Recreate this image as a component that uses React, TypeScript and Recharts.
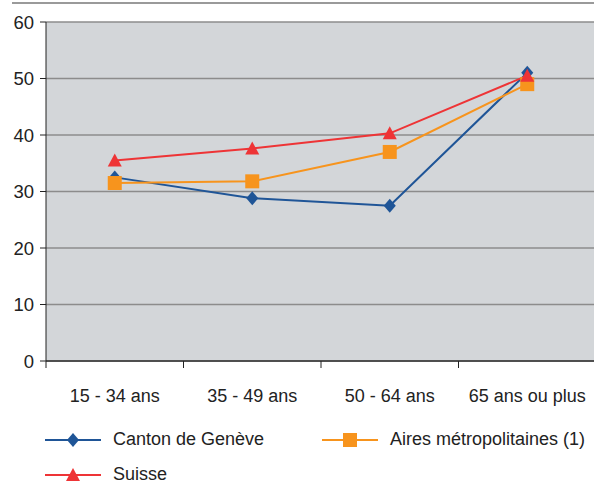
import { CartesianGrid, Line, LineChart, XAxis, YAxis } from 'recharts';

const categories = ['15 - 34 ans', '35 - 49 ans', '50 - 64 ans', '65 ans ou plus'];
const geneve = [32.5, 28.8, 27.5, 51.0];
const aires = [31.5, 31.8, 37.0, 49.0];
const suisse = [35.5, 37.6, 40.3, 50.5];
const yTicks = [0, 10, 20, 30, 40, 50, 60];

const BLUE = '#1f5597';
const ORANGE = '#f7941d';
const RED = '#ee3436';
const FONT = '"Liberation Sans", Arial, sans-serif';

const data = categories.map((name, i) => ({
  pos: i + 0.5,
  name,
  geneve: geneve[i],
  aires: aires[i],
  suisse: suisse[i],
}));

const xTicks = [0, 0.5, 1, 1.5, 2, 2.5, 3, 3.5, 4];

const XTick = (props: any) => {
  const { x, y, payload } = props;
  const v = payload.value;
  if (Number.isInteger(v)) {
    return <line x1={x} x2={x} y1={y - 8} y2={y - 1} stroke="#222" strokeWidth={1} />;
  }
  return (
    <text x={x} y={y + 33} textAnchor="middle" fill="#222" fontSize={18} fontFamily={FONT}>
      {categories[Math.floor(v)]}
    </text>
  );
};

const Diamond = (props: any) => {
  const { cx, cy } = props;
  return <path key={`d${cx}`} d={`M${cx},${cy - 7} L${cx + 6},${cy} L${cx},${cy + 7} L${cx - 6},${cy} Z`} fill={BLUE} />;
};
const Square = (props: any) => {
  const { cx, cy } = props;
  return <rect key={`s${cx}`} x={cx - 7} y={cy - 7} width={14} height={14} fill={ORANGE} />;
};
const Triangle = (props: any) => {
  const { cx, cy } = props;
  return <path key={`t${cx}`} d={`M${cx},${cy - 7} L${cx + 7},${cy + 6} L${cx - 7},${cy + 6} Z`} fill={RED} />;
};

const LegendItem = ({ color, label, marker }: { color: string; label: string; marker: string }) => (
  <div style={{ display: 'flex', alignItems: 'center', height: 35, whiteSpace: 'nowrap' }}>
    <svg width={68} height={20}>
      <line x1={0} x2={56} y1={10} y2={10} stroke={color} strokeWidth={2} />
      {marker === 'd' && <path d="M28,3 L34,10 L28,17 L22,10 Z" fill={color} />}
      {marker === 's' && <rect x={21} y={3} width={14} height={14} fill={color} />}
      {marker === 't' && <path d="M28,3 L35,16 L21,16 Z" fill={color} />}
    </svg>
    <span>{label}</span>
  </div>
);

export default function App() {
  return (
    <div style={{ position: 'absolute', left: 0, top: 0, width: 594, height: 484, background: '#fff', overflow: 'hidden' }}>
      <div style={{ position: 'absolute', left: 12, top: 2, width: 582, height: 2, background: '#9a9a9a' }} />
      <LineChart width={594} height={484} data={data} margin={{ top: 22, right: -2, left: 0, bottom: 83 }}>
        <CartesianGrid vertical={false} stroke="#8c8c8c" fill="#d3d6d9" strokeWidth={1.5} />
        <XAxis
          dataKey="pos"
          type="number"
          domain={[0, 4]}
          ticks={xTicks}
          interval={0}
          tick={<XTick />}
          tickLine={false}
          axisLine={{ stroke: '#333', strokeWidth: 1.5 }}
          height={40}
        />
        <YAxis
          domain={[0, 60]}
          ticks={yTicks}
          width={46}
          tickSize={6}
          tickMargin={6}
          tick={{ fill: '#222', fontSize: 18.5, fontFamily: FONT }}
          tickLine={{ stroke: '#222' }}
          axisLine={{ stroke: '#222' }}
        />
        <Line dataKey="geneve" name="Canton de Genève" stroke={BLUE} strokeWidth={2} dot={<Diamond />} isAnimationActive={false} />
        <Line dataKey="aires" name="Aires métropolitaines (1)" stroke={ORANGE} strokeWidth={2} dot={<Square />} isAnimationActive={false} />
        <Line dataKey="suisse" name="Suisse" stroke={RED} strokeWidth={2} dot={<Triangle />} isAnimationActive={false} />
      </LineChart>
      <div style={{ position: 'absolute', left: 0, top: 422, width: 594, height: 62, fontFamily: FONT, fontSize: 18, color: '#222' }}>
        <div style={{ position: 'absolute', left: 45, top: 0 }}>
          <LegendItem color={BLUE} label="Canton de Genève" marker="d" />
          <LegendItem color={RED} label="Suisse" marker="t" />
        </div>
        <div style={{ position: 'absolute', left: 322, top: 0 }}>
          <LegendItem color={ORANGE} label="Aires métropolitaines (1)" marker="s" />
        </div>
      </div>
    </div>
  );
}
